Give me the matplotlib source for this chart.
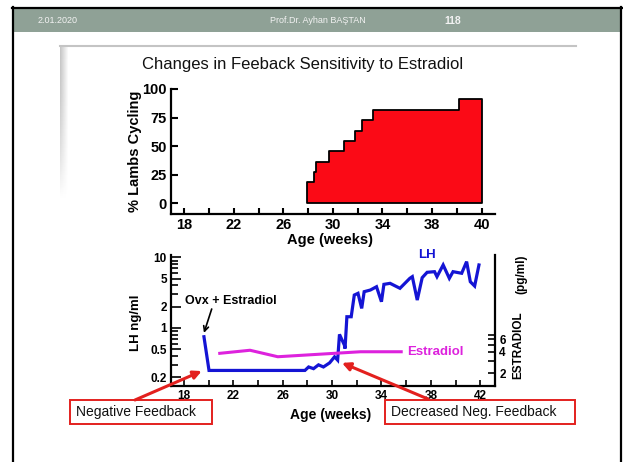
import numpy as np
import matplotlib
matplotlib.use('Agg')
import matplotlib.pyplot as plt
from matplotlib.patches import Rectangle
from matplotlib.ticker import FixedLocator, LogLocator, NullFormatter

plt.rcParams['font.family'] = ['Liberation Sans', 'DejaVu Sans']
plt.rcParams['font.weight'] = 'bold'
plt.rcParams['axes.labelweight'] = 'bold'

# top panel: cumulative % of lambs cycling (step edges, weeks)
cyc_age = [27.9, 28.5, 28.6, 29.65, 30.9, 31.8, 32.35, 33.2, 40.15, 42.0]
cyc_pct = [18.2, 27.3, 36.4, 45.5, 54.5, 63.6, 72.7, 81.8, 90.9, 90.9]
top_ticks = [18, 22, 26, 30, 34, 38, 42]
top_ticklabels = ['18', '22', '26', '30', '34', '38', '40']
pct_ticks = [0, 25, 50, 75, 100]

# bottom panel: LH (ng/ml) and estradiol (pg/ml) against age
lh_age = [19.62, 20.03, 27.8, 28.1, 28.5, 28.9, 29.3, 29.8, 30.2, 30.45,
          30.6, 31.0, 31.05, 31.2, 31.55, 31.8, 32.1, 32.4, 32.6, 33.1,
          33.6, 34.0, 34.2, 34.7, 35.5, 36.3, 36.5, 36.9, 37.3, 37.7,
          38.3, 38.5, 39.0, 39.5, 39.8, 40.5, 40.9, 41.2, 41.55, 41.9]
lh_val = [0.75, 0.25, 0.25, 0.28, 0.265, 0.30, 0.28, 0.32, 0.39, 0.35,
          0.81, 0.57, 0.51, 1.44, 1.44, 2.92, 3.09, 1.89, 3.26, 3.44,
          3.83, 2.35, 4.14, 4.28, 3.64, 5.04, 5.32, 2.48, 5.14, 6.13,
          6.26, 5.32, 7.79, 5.04, 6.26, 5.94, 8.68, 4.51, 3.92, 7.79]
e2_age = [20.9, 23.35, 25.6, 32.3, 35.6]
e2_val = [3.8, 4.2, 3.4, 4.0, 4.0]
bot_ticks = [18, 22, 26, 30, 34, 38, 42]
lh_ticks = [0.2, 0.5, 1, 2, 5, 10]
lh_ticklabels = ['0.2', '0.5', '1', '2', '5', '10']
e2_ticks = [2, 4, 6]

RED = '#e3201e'
BLUE = '#1414d4'
MAGENTA = '#dd22dd'
W, H = 623, 462

fig = plt.figure(figsize=(W / 100, H / 100), dpi=100)

# slide background in pixel coordinates
bg = fig.add_axes([0, 0, 1, 1])
bg.set_xlim(0, W)
bg.set_ylim(H, 0)
bg.axis('off')
bg.set_zorder(-1)
bg.add_patch(Rectangle((13, 9), 608, 23, facecolor='#8fa196', edgecolor='none'))
bg.plot([12, 622], [7.5, 7.5], color='black', lw=1.6)
bg.plot([12.5, 12.5], [7, H], color='black', lw=1.6)
bg.plot([621, 621], [7, H], color='black', lw=1.6)
bg.text(58, 20.5, '2.01.2020', color='#f2f2f2', fontsize=6.5, fontweight='normal',
        ha='center', va='center')
bg.text(318, 20.5, 'Prof.Dr. Ayhan BAŞTAN', color='#f2f2f2', fontsize=6.5,
        fontweight='normal', ha='center', va='center')
bg.text(453, 20.5, '118', color='#f2f2f2', fontsize=7.5, ha='center', va='center')

# picture frame shadow
bg.plot([60, 576], [45.5, 45.5], color='#c4c4c4', lw=1.5)
shade = np.linspace(0.78, 1.0, 9)[None, :] * np.ones((40, 1))
fade = np.linspace(0, 1, 40)[:, None] ** 2
shade = shade + (1 - shade) * fade
bg.imshow(shade, cmap='gray', vmin=0, vmax=1, extent=(60, 69, 200, 46),
          aspect='auto', interpolation='bilinear')

bg.text(303, 65, 'Changes in Feeback Sensitivity to Estradiol', fontsize=12,
        fontweight='normal', ha='center', va='center', color='#111111')

# top panel
ax_top = fig.add_axes([171 / W, 1 - 214 / H, 324 / W, 125 / H])
ax_top.patch.set_alpha(0)
ax_top.fill_between(cyc_age, 0, cyc_pct, step='post', facecolor='#fb0a16',
                    edgecolor='black', lw=1.3)
ax_top.set_xlim(16.93, 43.08)
ax_top.set_ylim(-9.6, 100)
ax_top.set_xticks(np.arange(18, 43, 2), minor=True)
ax_top.set_xticks(top_ticks, top_ticklabels)
ax_top.set_yticks(pct_ticks)
for side in ['top', 'right']:
    ax_top.spines[side].set_visible(False)
for side in ['left', 'bottom']:
    ax_top.spines[side].set_linewidth(1.6)
ax_top.tick_params(which='both', direction='in', width=1.5, length=5,
                   labelsize=10.5, pad=3)
ax_top.tick_params(axis='x', which='both', length=4, pad=3)
ax_top.set_ylabel('% Lambs Cycling', fontsize=10.5)
ax_top.yaxis.set_label_coords(-0.09, 0.5)
ax_top.set_xlabel('Age (weeks)', fontsize=10.5)
ax_top.xaxis.set_label_coords(0.49, -0.15)

# bottom panel
ax_bot = fig.add_axes([171 / W, 1 - 385.7 / H, 324 / W, 130.7 / H])
ax_bot.patch.set_alpha(0)
ax_bot.plot(lh_age, lh_val, color=BLUE, lw=2.3, solid_joinstyle='miter')
ax_bot.set_yscale('log')
ax_bot.set_xlim(16.95, 43.2)
ax_bot.set_ylim(0.152, 10.78)
ax_bot.yaxis.set_major_locator(FixedLocator(lh_ticks))
ax_bot.set_yticklabels(lh_ticklabels)
ax_bot.yaxis.set_minor_locator(LogLocator(subs=np.arange(2, 10)))
ax_bot.yaxis.set_minor_formatter(NullFormatter())
ax_bot.set_xticks(np.arange(18, 43, 2), minor=True)
ax_bot.set_xticks(bot_ticks)
for side in ['top', 'right']:
    ax_bot.spines[side].set_visible(False)
for side in ['left', 'bottom']:
    ax_bot.spines[side].set_linewidth(1.6)
ax_bot.tick_params(which='both', direction='in', width=1.2, labelsize=8.5, pad=3)
ax_bot.tick_params(axis='y', which='major', length=7)
ax_bot.tick_params(axis='y', which='minor', length=5)
ax_bot.tick_params(axis='x', which='both', length=4)
ax_bot.set_ylabel('LH ng/ml', fontsize=9.5)
ax_bot.yaxis.set_label_coords(-0.09, 0.48)
ax_bot.set_xlabel('Age (weeks)', fontsize=10)
ax_bot.xaxis.set_label_coords(0.494, -0.17)

# estradiol on its own log axis
ax_e2 = ax_bot.twinx()
ax_e2.plot(e2_age, e2_val, color=MAGENTA, lw=2.2)
ax_e2.set_yscale('log')
ax_e2.set_ylim(0.152 * 8.7, 10.78 * 8.7)
ax_e2.yaxis.set_major_locator(FixedLocator(e2_ticks))
ax_e2.set_yticklabels([str(t) for t in e2_ticks])
ax_e2.yaxis.set_minor_locator(FixedLocator([3, 5, 7]))
ax_e2.yaxis.set_minor_formatter(NullFormatter())
for side in ['top', 'left', 'bottom']:
    ax_e2.spines[side].set_visible(False)
ax_e2.spines['right'].set_linewidth(1.6)
ax_e2.tick_params(which='both', direction='in', width=1.2, length=5,
                  labelsize=8.5, pad=3)
ax_e2.text(1.071, 0.31, 'ESTRADIOL', transform=ax_e2.transAxes, rotation=90,
           fontsize=8.5, ha='center', va='center')
ax_e2.text(1.082, 0.855, '(pg/ml)', transform=ax_e2.transAxes, rotation=90,
           fontsize=8.5, ha='center', va='center')

# series labels
ax_bot.text(426.7, 255, 'LH', transform=bg.transData, color=BLUE, fontsize=9.5,
            ha='center', va='center')
ax_bot.text(407, 351.7, 'Estradiol', transform=bg.transData, color=MAGENTA,
            fontsize=9.5, ha='left', va='center')

# Ovx annotation
ax_bot.text(185, 300.7, 'Ovx + Estradiol', transform=bg.transData, fontsize=9,
            ha='left', va='center')
ax_bot.annotate('', xy=(19.62, 0.85), xycoords='data', xytext=(211.7, 309),
                textcoords=bg.transData, annotation_clip=False,
                arrowprops=dict(arrowstyle='->', color='black', lw=1.2,
                                shrinkA=0, shrinkB=0, mutation_scale=9))

# callout boxes with red arrows
callouts = [
    ('Negative Feedback', (70, 400, 142, 24), (135, 400), (19.44, 0.245)),
    ('Decreased Neg. Feedback', (385, 400, 190, 24), (428, 399), (30.8, 0.32)),
]
for label, (bx, by, bw, bh), start, target in callouts:
    bg.add_patch(Rectangle((bx, by), bw, bh, facecolor='white', edgecolor=RED,
                           lw=1.4))
    bg.text(bx + 6, by + bh / 2, label, fontsize=10, fontweight='normal',
            ha='left', va='center', color='#111111')
    ax_bot.annotate('', xy=target, xycoords='data', xytext=start,
                    textcoords=bg.transData, annotation_clip=False,
                    arrowprops=dict(arrowstyle='-|>', color=RED, lw=2.2,
                                    shrinkA=0, shrinkB=0, mutation_scale=12))

fig.savefig('out.png', dpi=100)
